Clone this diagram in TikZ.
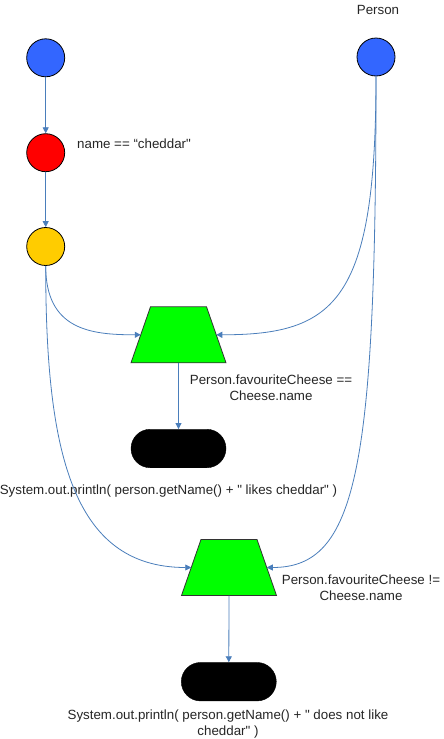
\documentclass[tikz,border=0pt]{standalone}
\usepackage{fontspec}
\setmainfont{Liberation Sans}[Ligatures=TeXOff]
\usetikzlibrary{shapes.geometric,shapes.misc,arrows.meta}
\definecolor{connc}{RGB}{74,126,187}
\definecolor{cblue}{RGB}{51,102,255}
\definecolor{cred}{RGB}{255,0,0}
\definecolor{cyellow}{RGB}{255,204,0}
\definecolor{cgreen}{RGB}{0,255,0}
\begin{document}
\begin{tikzpicture}[x=1pt,y=-1pt,
 state/.style={circle,draw=black,line width=0.8pt,minimum size=38pt,inner sep=0pt},
 joinbox/.style={trapezium,trapezium left angle=70.8,trapezium right angle=70.8,draw=black!80,line width=0.8pt,fill=cgreen,inner sep=0pt,outer sep=0pt},
 termbox/.style={rounded rectangle,fill=black,draw=black,minimum width=95pt,minimum height=38.5pt,inner sep=0pt},
 conn/.style={draw=connc,line width=0.8pt,-{Triangle[length=6pt,width=6pt]}},
 lbl/.style={font=\fontsize{13.33}{16}\selectfont,text=black!85,inner sep=0pt,align=center}]
\fill[white] (0,0) rectangle (444,739);
\useasboundingbox (0,0) rectangle (444,739);
% states
\node[state,fill=cblue] (s1) at (45.7,57.8) {};
\node[state,fill=cred] (s2) at (45.7,152.7) {};
\node[state,fill=cyellow] (s3) at (45.7,246.5) {};
\node[state,fill=cblue] (p) at (376,57) {};
% joins
\node[joinbox] (j1) at (178.5,334.8) {\phantom{\rule{56pt}{56pt}}};
\node[joinbox] (j2) at (229,567.5) {\phantom{\rule{56pt}{56pt}}};
% terminals
\node[termbox] (t1) at (178.5,448.5) {};
\node[termbox] (t2) at (228.8,681.7) {};
% labels
\node[lbl,anchor=base] (lp) at (378,14.5) {Person};
\node[lbl,anchor=base west] (ln) at (77,148) {name == “cheddar"};
\node[lbl,anchor=base] (lj1) at (271,400) {Person.favouriteCheese ==\\Cheese.name};
\node[lbl,anchor=base] (lt1) at (168.5,494) {System.out.println( person.getName() + " likes cheddar" )};
\node[lbl,anchor=base] (lj2) at (361,600) {Person.favouriteCheese !=\\Cheese.name};
\node[lbl,anchor=base] (lt2) at (228,735.5) {System.out.println( person.getName() + " does not like\\cheddar" )};
% connectors
\draw[conn] (s1) -- (s2);
\draw[conn] (s2) -- (s3);
\draw[conn] (s3.south) .. controls +(0,64) and +(-50,0) .. (j1.left side);
\draw[conn] (s3.south) .. controls +(0,184) and +(-120,0) .. (j2.left side);
\draw[conn] (p.south) .. controls +(0,224) and +(120,0) .. (j1.right side);
\draw[conn] (p.south) .. controls +(0,394) and +(90,0) .. (j2.right side);
\draw[conn] (j1.bottom side) -- (t1.north);
\draw[conn] (j2.bottom side) -- (t2.north);
\end{tikzpicture}
\end{document}
